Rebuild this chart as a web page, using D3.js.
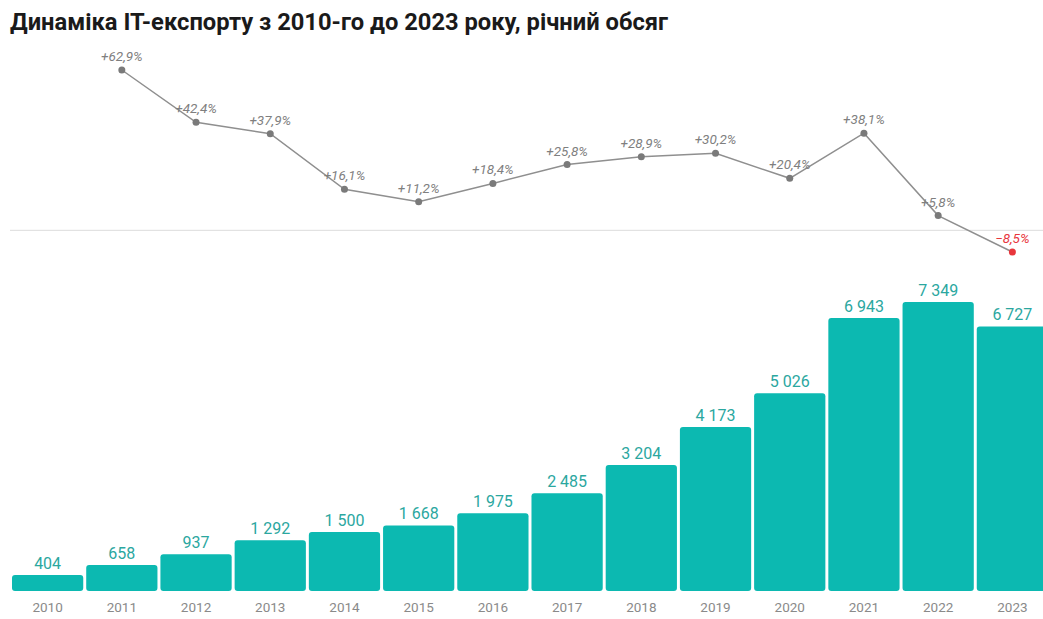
<!DOCTYPE html>
<html><head><meta charset="utf-8">
<script src="https://cdn.jsdelivr.net/npm/d3@7"></script>
<style>body{margin:0;background:#fff}svg{display:block}</style>
</head><body>
<svg id="c" width="1043" height="619"></svg>
<script>
const years = ["2010","2011","2012","2013","2014","2015","2016","2017","2018","2019","2020","2021","2022","2023"];
const volumes = [404,658,937,1292,1500,1668,1975,2485,3204,4173,5026,6943,7349,6727];
const growthYears = ["2011","2012","2013","2014","2015","2016","2017","2018","2019","2020","2021","2022","2023"];
const growth = [62.9,42.4,37.9,16.1,11.2,18.4,25.8,28.9,30.2,20.4,38.1,5.8,-8.5];
const title = "Динаміка IT-експорту з 2010-го до 2023 року, річний обсяг";

const svg = d3.select("#c");
const W = 1043, H = 619;

svg.append("text").attr("x",10).attr("y",30)
  .attr("font-family","Roboto, sans-serif").attr("font-weight",700)
  .attr("font-size",23).attr("fill","#1a1a1a")
  .attr("textLength",658).attr("lengthAdjust","spacingAndGlyphs")
  .text(title);

const x = d3.scaleBand().domain(years).range([12, 1048]).paddingInner(0.04).paddingOuter(0);
const yBar = d3.scaleLinear().domain([0,7349]).range([591,302]);
const yLine = d3.scaleLinear().domain([-8.5,62.9]).range([252,70]);
const cx = d => x(d) + x.bandwidth()/2;

// bars
svg.append("g").selectAll("rect").data(years).join("rect")
  .attr("x", d=>x(d)).attr("width", x.bandwidth())
  .attr("y", (d,i)=>yBar(volumes[i])).attr("height",(d,i)=>yBar(0)-yBar(volumes[i]))
  .attr("rx",3).attr("fill","#0cb9b1");

const fmt = v => d3.format(",")(v).replace(/,/g," ");
svg.append("g").selectAll("text").data(years).join("text")
  .attr("x", d=>cx(d)).attr("y",(d,i)=>yBar(volumes[i])-6)
  .attr("text-anchor","middle").attr("font-family","Roboto, sans-serif")
  .attr("font-size",16).attr("fill","#2ba79f")
  .text((d,i)=>fmt(volumes[i]));

// x axis labels
const xAxis = d3.axisBottom(x).tickSize(0).tickPadding(0);
const ga = svg.append("g").attr("transform","translate(0,602)").call(xAxis);
ga.select(".domain").remove();
ga.selectAll("text").attr("font-family","Roboto, sans-serif").attr("font-size",13.5)
  .attr("fill","#8a8a8a").attr("dy","0.71em");

// zero line
svg.append("line").attr("x1",10).attr("x2",W).attr("y1",yLine(0)).attr("y2",yLine(0))
  .attr("stroke","#dddddd").attr("stroke-width",1);

// line
const line = d3.line().x((d,i)=>cx(growthYears[i])).y(d=>yLine(d));
svg.append("path").datum(growth).attr("d",line).attr("fill","none")
  .attr("stroke","#8f8f8f").attr("stroke-width",1.5);

svg.append("g").selectAll("circle").data(growth).join("circle")
  .attr("cx",(d,i)=>cx(growthYears[i])).attr("cy",d=>yLine(d)).attr("r",3.5)
  .attr("fill",d=>d<0?"#e8363c":"#7a7a7a");

const pfmt = v => (v<0?"\u2212":"+") + Math.abs(v).toFixed(1).replace(".",",") + "%";
svg.append("g").selectAll("text").data(growth).join("text")
  .attr("x",(d,i)=>cx(growthYears[i])).attr("y",d=>yLine(d)-9)
  .attr("text-anchor","middle").attr("font-family","Roboto, sans-serif")
  .attr("font-style","italic").attr("font-size",13.5)
  .attr("fill",d=>d<0?"#e8363c":"#7f7f7f")
  .text(d=>pfmt(d));
</script>
</body></html>
